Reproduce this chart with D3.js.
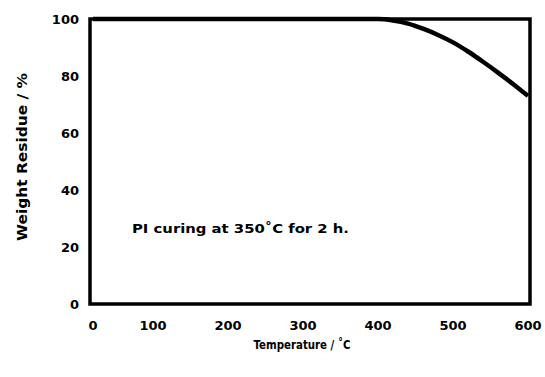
<!DOCTYPE html>
<html><head><meta charset="utf-8">
<script src="https://cdn.jsdelivr.net/npm/d3@7/dist/d3.min.js"></script>
<style>body{margin:0;background:#fff}svg{display:block}text{font-family:"DejaVu Sans","Liberation Sans",Arial,sans-serif;font-weight:bold;fill:#000}</style>
</head><body>
<script>
const temps = [0, 100, 200, 300, 400, 420, 440, 460, 480, 500, 520, 540, 560, 580, 600];
const weights = [100, 100, 100, 100, 100, 99.5, 98.4, 96.6, 94.4, 91.8, 88.6, 85, 81.2, 77.2, 73];
const xTicks = [0, 100, 200, 300, 400, 500, 600];
const yTicks = [0, 20, 40, 60, 80, 100];
const annotation = "PI curing at 350\u02DAC for 2 h.";
const xTitle = "Temperature / \u02DAC";
const yTitle = "Weight Residue / %";

const W = 545, H = 377;
const svg = d3.select("body").append("svg").attr("width", W).attr("height", H);

const x = d3.scaleLinear().domain([0, 100, 600]).range([93, 153, 528]);
const y = d3.scaleLinear().domain([0, 100]).range([304, 19]);

const frame = {l: 90, r: 530, t: 19, b: 304};

// curve
const line = d3.line().x(d => x(d[0])).y(d => y(d[1])).curve(d3.curveMonotoneX);
svg.append("path").datum(temps.map((t, i) => [t, weights[i]]))
  .attr("d", line).attr("fill", "none").attr("stroke", "#000").attr("stroke-width", 4.5);

// frame
svg.append("rect").attr("x", frame.l).attr("y", frame.t)
  .attr("width", frame.r - frame.l).attr("height", frame.b - frame.t)
  .attr("fill", "none").attr("stroke", "#000").attr("stroke-width", 3.5);

// x tick labels
svg.append("g").selectAll("text").data(xTicks).join("text")
  .attr("x", d => x(d)).attr("y", 330).attr("text-anchor", "middle")
  .attr("font-size", 13).text(d => d);

// y tick labels
svg.append("g").selectAll("text").data(yTicks).join("text")
  .attr("x", 79).attr("y", d => y(d) + 5).attr("text-anchor", "end")
  .attr("font-size", 13).text(d => d);

// annotation
svg.append("text").attr("x", 132).attr("y", 233).attr("font-size", 13)
  .attr("textLength", 217).attr("lengthAdjust", "spacingAndGlyphs")
  .text(annotation);

// axis titles
svg.append("text").attr("x", 302).attr("y", 349).attr("text-anchor", "middle")
  .attr("font-size", 13).attr("textLength", 97).attr("lengthAdjust", "spacingAndGlyphs")
  .text(xTitle);
svg.append("text").attr("transform", "translate(27,157) rotate(-90)")
  .attr("text-anchor", "middle").attr("font-size", 14)
  .attr("textLength", 168).attr("lengthAdjust", "spacingAndGlyphs").text(yTitle);
</script>
</body></html>
